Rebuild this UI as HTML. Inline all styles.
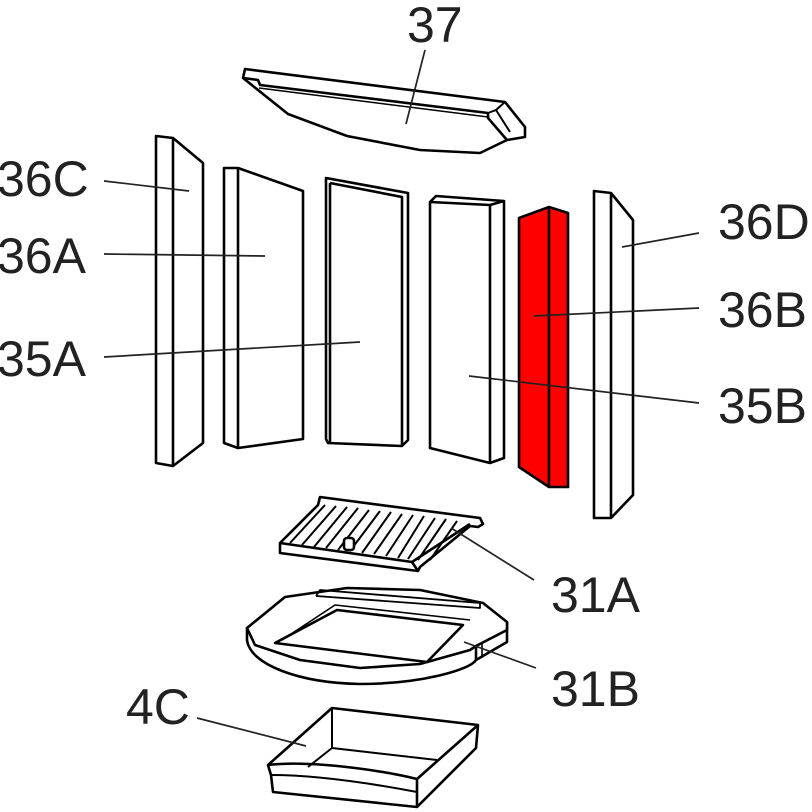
<!DOCTYPE html>
<html><head><meta charset="utf-8"><style>
html,body{margin:0;padding:0;background:#fff;}
svg{display:block;}
text{font-family:"Liberation Sans",Arial,sans-serif;font-size:50px;fill:#222;}
</style></head><body>
<svg width="812" height="812" viewBox="0 0 812 812" xmlns="http://www.w3.org/2000/svg">
<g fill="#fff" stroke="#000" stroke-width="2.6" stroke-linejoin="round">
<!-- 37 -->
<polygon points="245,69 505,102 525,127 525,137 507,140 480,153 420,150 347,136 288,114 243,78"/>
<polyline points="243,78 258,80 260,85 488,113" fill="none"/>
<polyline points="259,88 488,117" fill="none" stroke-width="1.5"/>
<polyline points="488,113 488,118 507,140" fill="none"/>
<polyline points="488,113 496,110 510,132" fill="none" stroke-width="2"/>
<polyline points="496,110 505,102" fill="none" stroke-width="2"/>
<!-- 36C -->
<polygon points="156,136 173,138 203,163 203,443 173,466 156,463"/>
<line x1="173" y1="138" x2="173" y2="466"/>
<!-- 36A -->
<polygon points="224,168 238,168 303,191 303,439 238,448 224,443"/>
<line x1="238" y1="168" x2="238" y2="448"/>
<!-- 35A -->
<polygon points="326,178 408,193 408,440 402,446 328,443 326,439"/>
<polyline points="330,183 330,443" fill="none"/>
<polyline points="330,183 402,197 402,445" fill="none"/>
<!-- 35B -->
<polygon points="430,202 436,196 504,201 504,458 490,463 430,448"/>
<polyline points="430,202 490,205 504,201" fill="none"/>
<line x1="490" y1="205" x2="490" y2="463"/>
<!-- 36B red -->
<polygon points="519,218 549,207 568,213 568,487 549,487 519,467" fill="#ff0000"/>
<line x1="549" y1="207" x2="549" y2="487"/>
<!-- 36D -->
<polygon points="594,191 611,193 633,220 633,495 611,518 594,518"/>
<line x1="611" y1="193" x2="611" y2="518"/>
<!-- 31A grate -->
<polygon points="320,497 480,518 483,524 478,527 470,526 420,567 418,571 280,553 280,543 318,505"/>
<polyline points="280,543 412,562 470,524" fill="none"/>
<polyline points="412,562 418,571" fill="none"/>
<g stroke-width="2">
<line x1="325" y1="505" x2="290" y2="543"/><line x1="336" y1="506" x2="302" y2="545"/>
<line x1="347" y1="507" x2="314" y2="547"/><line x1="358" y1="508" x2="326" y2="548"/>
<line x1="369" y1="510" x2="338" y2="550"/><line x1="380" y1="511" x2="350" y2="551"/>
<line x1="391" y1="512" x2="362" y2="553"/><line x1="402" y1="514" x2="374" y2="554"/>
<line x1="413" y1="515" x2="386" y2="556"/><line x1="424" y1="516" x2="398" y2="558"/>
<line x1="435" y1="518" x2="408" y2="559"/><line x1="446" y1="519" x2="418" y2="560"/>
<line x1="457" y1="521" x2="430" y2="560"/>
</g>
<rect x="344" y="538" width="10" height="12" rx="3"/>
<!-- 31B ring -->
<path d="M247,628 L247,640 C250,665 300,683 360,684 C420,684 470,670 476,660 L507,642 L507,622 Z"/>
<polygon points="247,628 285,597 347,588 420,590 483,603 507,622 507,630 476,646 470,650 420,664 360,668 300,660 255,645"/>
<polygon points="275,643 337,610 463,625 427,662"/>
<polyline points="282,640 335,605 470,620" fill="none" stroke-width="1.6"/>
<polyline points="316,596 320,590 480,603 480,608 316,596" fill="none" stroke-width="1.8"/>
<line x1="476" y1="646" x2="476" y2="660"/>
<line x1="482" y1="644" x2="482" y2="658" stroke-width="1.6"/>
<!-- 4C drawer -->
<polygon points="332,708 478,725 476,748 417,807 273,792 271,775 268,765"/>
<polyline points="332,708 332,748 308,767" fill="none" stroke-width="2"/>
<polyline points="332,748 437,760" fill="none" stroke-width="2"/>
<polyline points="478,725 417,779" fill="none"/>
<path d="M268,765 C310,760 380,770 417,779 L417,807" fill="none"/>
<path d="M271,775 C320,775 380,785 417,792" fill="none" stroke-width="2"/>
</g>
<!-- leader lines -->
<g stroke="#222" stroke-width="1.7" fill="none">
<line x1="425" y1="50" x2="406" y2="124"/>
<line x1="104" y1="181" x2="189" y2="191"/>
<line x1="104" y1="254" x2="265" y2="256"/>
<line x1="104" y1="357" x2="360" y2="342"/>
<line x1="699" y1="233" x2="622" y2="247"/>
<line x1="534" y1="316" x2="699" y2="308"/>
<line x1="469" y1="376" x2="699" y2="403"/>
<line x1="451" y1="528" x2="534" y2="580"/>
<line x1="464" y1="642" x2="536" y2="668"/>
<line x1="197" y1="718" x2="306" y2="746"/>
</g>
<g>
<text x="407" y="42">37</text>
<text x="-3" y="196">36C</text>
<text x="-3" y="273">36A</text>
<text x="-3" y="376">35A</text>
<text x="718" y="239">36D</text>
<text x="718" y="327">36B</text>
<text x="718" y="423">35B</text>
<text x="551" y="612">31A</text>
<text x="551" y="706">31B</text>
<text x="126" y="724">4C</text>
</g>
</svg>
</body></html>
